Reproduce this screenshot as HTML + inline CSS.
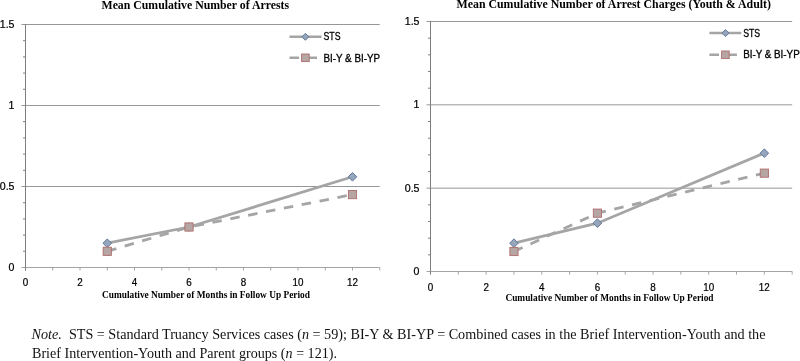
<!DOCTYPE html>
<html><head><meta charset="utf-8"><style>
html,body{margin:0;padding:0;background:#fff;}
svg{display:block;will-change:transform;}
.ax{font-family:"Liberation Sans",sans-serif;font-size:10.6px;fill:#000;stroke:#000;stroke-width:0.22px;}
.lg{font-family:"Liberation Sans",sans-serif;font-size:10px;fill:#000;stroke:#000;stroke-width:0.3px;}
.ti{font-family:"Liberation Serif",serif;font-weight:bold;font-size:11.8px;fill:#000;}
.xt{font-family:"Liberation Serif",serif;font-weight:bold;font-size:9.3px;fill:#000;}
.nt{font-family:"Liberation Serif",serif;font-size:14.3px;fill:#111;}
</style></head><body>
<svg width="800" height="361" viewBox="0 0 800 361">
<rect width="800" height="361" fill="#fff"/>
<text x="101.5" y="9" class="ti" textLength="187.5" lengthAdjust="spacingAndGlyphs">Mean Cumulative Number of Arrests</text>
<text x="456.5" y="8" class="ti" textLength="314.5" lengthAdjust="spacingAndGlyphs">Mean Cumulative Number of Arrest Charges (Youth &amp; Adult)</text>
<line x1="21.50" y1="186.50" x2="379.75" y2="186.50" stroke="#979797" stroke-width="1"/>
<line x1="21.50" y1="105.50" x2="379.75" y2="105.50" stroke="#979797" stroke-width="1"/>
<line x1="21.50" y1="24.50" x2="379.75" y2="24.50" stroke="#979797" stroke-width="1"/>
<line x1="23.00" y1="251.30" x2="25.50" y2="251.30" stroke="#7f7f7f" stroke-width="1"/>
<line x1="23.00" y1="235.10" x2="25.50" y2="235.10" stroke="#7f7f7f" stroke-width="1"/>
<line x1="23.00" y1="218.90" x2="25.50" y2="218.90" stroke="#7f7f7f" stroke-width="1"/>
<line x1="23.00" y1="202.70" x2="25.50" y2="202.70" stroke="#7f7f7f" stroke-width="1"/>
<line x1="23.00" y1="170.30" x2="25.50" y2="170.30" stroke="#7f7f7f" stroke-width="1"/>
<line x1="23.00" y1="154.10" x2="25.50" y2="154.10" stroke="#7f7f7f" stroke-width="1"/>
<line x1="23.00" y1="137.90" x2="25.50" y2="137.90" stroke="#7f7f7f" stroke-width="1"/>
<line x1="23.00" y1="121.70" x2="25.50" y2="121.70" stroke="#7f7f7f" stroke-width="1"/>
<line x1="23.00" y1="89.30" x2="25.50" y2="89.30" stroke="#7f7f7f" stroke-width="1"/>
<line x1="23.00" y1="73.10" x2="25.50" y2="73.10" stroke="#7f7f7f" stroke-width="1"/>
<line x1="23.00" y1="56.90" x2="25.50" y2="56.90" stroke="#7f7f7f" stroke-width="1"/>
<line x1="23.00" y1="40.70" x2="25.50" y2="40.70" stroke="#7f7f7f" stroke-width="1"/>
<line x1="21.50" y1="267.50" x2="379.75" y2="267.50" stroke="#a4a4a4" stroke-width="1"/>
<line x1="25.50" y1="267.50" x2="25.50" y2="270.50" stroke="#a4a4a4" stroke-width="1"/>
<line x1="52.75" y1="267.50" x2="52.75" y2="270.50" stroke="#a4a4a4" stroke-width="1"/>
<line x1="80.00" y1="267.50" x2="80.00" y2="270.50" stroke="#a4a4a4" stroke-width="1"/>
<line x1="107.25" y1="267.50" x2="107.25" y2="270.50" stroke="#a4a4a4" stroke-width="1"/>
<line x1="134.50" y1="267.50" x2="134.50" y2="270.50" stroke="#a4a4a4" stroke-width="1"/>
<line x1="161.75" y1="267.50" x2="161.75" y2="270.50" stroke="#a4a4a4" stroke-width="1"/>
<line x1="189.00" y1="267.50" x2="189.00" y2="270.50" stroke="#a4a4a4" stroke-width="1"/>
<line x1="216.25" y1="267.50" x2="216.25" y2="270.50" stroke="#a4a4a4" stroke-width="1"/>
<line x1="243.50" y1="267.50" x2="243.50" y2="270.50" stroke="#a4a4a4" stroke-width="1"/>
<line x1="270.75" y1="267.50" x2="270.75" y2="270.50" stroke="#a4a4a4" stroke-width="1"/>
<line x1="298.00" y1="267.50" x2="298.00" y2="270.50" stroke="#a4a4a4" stroke-width="1"/>
<line x1="325.25" y1="267.50" x2="325.25" y2="270.50" stroke="#a4a4a4" stroke-width="1"/>
<line x1="352.50" y1="267.50" x2="352.50" y2="270.50" stroke="#a4a4a4" stroke-width="1"/>
<line x1="379.75" y1="267.50" x2="379.75" y2="270.50" stroke="#a4a4a4" stroke-width="1"/>
<line x1="25.50" y1="24.00" x2="25.50" y2="270.50" stroke="#7f7f7f" stroke-width="1"/>
<text transform="translate(14.50,271.00) scale(1,1)" class="ax" text-anchor="end">0</text>
<text transform="translate(14.50,190.00) scale(1,1)" class="ax" text-anchor="end">0.5</text>
<text transform="translate(14.50,109.00) scale(1,1)" class="ax" text-anchor="end">1</text>
<text transform="translate(14.50,28.00) scale(1,1)" class="ax" text-anchor="end">1.5</text>
<text transform="translate(25.50,286.00) scale(0.93,1)" class="ax" text-anchor="middle">0</text>
<text transform="translate(80.00,286.00) scale(0.93,1)" class="ax" text-anchor="middle">2</text>
<text transform="translate(134.50,286.00) scale(0.93,1)" class="ax" text-anchor="middle">4</text>
<text transform="translate(189.00,286.00) scale(0.93,1)" class="ax" text-anchor="middle">6</text>
<text transform="translate(243.50,286.00) scale(0.93,1)" class="ax" text-anchor="middle">8</text>
<text transform="translate(298.00,286.00) scale(0.93,1)" class="ax" text-anchor="middle">10</text>
<text transform="translate(352.50,286.00) scale(0.93,1)" class="ax" text-anchor="middle">12</text>
<polyline points="107.25,251.30 189.00,227.00 352.50,194.60" fill="none" stroke="#a5a5a5" stroke-width="2.8" stroke-dasharray="9.5 8.7"/>
<polyline points="107.25,243.20 189.00,227.00 352.50,176.78" fill="none" stroke="#a5a5a5" stroke-width="2.8"/>
<polygon points="107.25,238.90 111.55,243.20 107.25,247.50 102.95,243.20" fill="#94a5bc" stroke="#62789a" stroke-width="1"/>
<polygon points="189.00,222.70 193.30,227.00 189.00,231.30 184.70,227.00" fill="#94a5bc" stroke="#62789a" stroke-width="1"/>
<polygon points="352.50,172.48 356.80,176.78 352.50,181.08 348.20,176.78" fill="#94a5bc" stroke="#62789a" stroke-width="1"/>
<rect x="103.15" y="247.20" width="8.20" height="8.20" fill="#b5a6a3" stroke="#b06c6c" stroke-width="0.9"/>
<rect x="184.90" y="222.90" width="8.20" height="8.20" fill="#b5a6a3" stroke="#b06c6c" stroke-width="0.9"/>
<rect x="348.40" y="190.50" width="8.20" height="8.20" fill="#b5a6a3" stroke="#b06c6c" stroke-width="0.9"/>
<line x1="426.50" y1="188.17" x2="792.16" y2="188.17" stroke="#979797" stroke-width="1"/>
<line x1="426.50" y1="104.83" x2="792.16" y2="104.83" stroke="#979797" stroke-width="1"/>
<line x1="426.50" y1="21.50" x2="792.16" y2="21.50" stroke="#979797" stroke-width="1"/>
<line x1="428.00" y1="254.83" x2="430.50" y2="254.83" stroke="#7f7f7f" stroke-width="1"/>
<line x1="428.00" y1="238.17" x2="430.50" y2="238.17" stroke="#7f7f7f" stroke-width="1"/>
<line x1="428.00" y1="221.50" x2="430.50" y2="221.50" stroke="#7f7f7f" stroke-width="1"/>
<line x1="428.00" y1="204.83" x2="430.50" y2="204.83" stroke="#7f7f7f" stroke-width="1"/>
<line x1="428.00" y1="171.50" x2="430.50" y2="171.50" stroke="#7f7f7f" stroke-width="1"/>
<line x1="428.00" y1="154.83" x2="430.50" y2="154.83" stroke="#7f7f7f" stroke-width="1"/>
<line x1="428.00" y1="138.16" x2="430.50" y2="138.16" stroke="#7f7f7f" stroke-width="1"/>
<line x1="428.00" y1="121.50" x2="430.50" y2="121.50" stroke="#7f7f7f" stroke-width="1"/>
<line x1="428.00" y1="88.16" x2="430.50" y2="88.16" stroke="#7f7f7f" stroke-width="1"/>
<line x1="428.00" y1="71.50" x2="430.50" y2="71.50" stroke="#7f7f7f" stroke-width="1"/>
<line x1="428.00" y1="54.83" x2="430.50" y2="54.83" stroke="#7f7f7f" stroke-width="1"/>
<line x1="428.00" y1="38.16" x2="430.50" y2="38.16" stroke="#7f7f7f" stroke-width="1"/>
<line x1="426.50" y1="271.50" x2="792.16" y2="271.50" stroke="#a4a4a4" stroke-width="1"/>
<line x1="430.50" y1="271.50" x2="430.50" y2="274.50" stroke="#a4a4a4" stroke-width="1"/>
<line x1="458.32" y1="271.50" x2="458.32" y2="274.50" stroke="#a4a4a4" stroke-width="1"/>
<line x1="486.14" y1="271.50" x2="486.14" y2="274.50" stroke="#a4a4a4" stroke-width="1"/>
<line x1="513.96" y1="271.50" x2="513.96" y2="274.50" stroke="#a4a4a4" stroke-width="1"/>
<line x1="541.78" y1="271.50" x2="541.78" y2="274.50" stroke="#a4a4a4" stroke-width="1"/>
<line x1="569.60" y1="271.50" x2="569.60" y2="274.50" stroke="#a4a4a4" stroke-width="1"/>
<line x1="597.42" y1="271.50" x2="597.42" y2="274.50" stroke="#a4a4a4" stroke-width="1"/>
<line x1="625.24" y1="271.50" x2="625.24" y2="274.50" stroke="#a4a4a4" stroke-width="1"/>
<line x1="653.06" y1="271.50" x2="653.06" y2="274.50" stroke="#a4a4a4" stroke-width="1"/>
<line x1="680.88" y1="271.50" x2="680.88" y2="274.50" stroke="#a4a4a4" stroke-width="1"/>
<line x1="708.70" y1="271.50" x2="708.70" y2="274.50" stroke="#a4a4a4" stroke-width="1"/>
<line x1="736.52" y1="271.50" x2="736.52" y2="274.50" stroke="#a4a4a4" stroke-width="1"/>
<line x1="764.34" y1="271.50" x2="764.34" y2="274.50" stroke="#a4a4a4" stroke-width="1"/>
<line x1="792.16" y1="271.50" x2="792.16" y2="274.50" stroke="#a4a4a4" stroke-width="1"/>
<line x1="430.50" y1="21.00" x2="430.50" y2="274.50" stroke="#7f7f7f" stroke-width="1"/>
<text transform="translate(419.50,275.00) scale(1,1)" class="ax" text-anchor="end">0</text>
<text transform="translate(419.50,191.67) scale(1,1)" class="ax" text-anchor="end">0.5</text>
<text transform="translate(419.50,108.33) scale(1,1)" class="ax" text-anchor="end">1</text>
<text transform="translate(419.50,25.00) scale(1,1)" class="ax" text-anchor="end">1.5</text>
<text transform="translate(430.50,290.60) scale(0.93,1)" class="ax" text-anchor="middle">0</text>
<text transform="translate(486.14,290.60) scale(0.93,1)" class="ax" text-anchor="middle">2</text>
<text transform="translate(541.78,290.60) scale(0.93,1)" class="ax" text-anchor="middle">4</text>
<text transform="translate(597.42,290.60) scale(0.93,1)" class="ax" text-anchor="middle">6</text>
<text transform="translate(653.06,290.60) scale(0.93,1)" class="ax" text-anchor="middle">8</text>
<text transform="translate(708.70,290.60) scale(0.93,1)" class="ax" text-anchor="middle">10</text>
<text transform="translate(764.34,290.60) scale(0.93,1)" class="ax" text-anchor="middle">12</text>
<polyline points="513.96,251.50 597.42,213.17 764.34,173.16" fill="none" stroke="#a5a5a5" stroke-width="2.8" stroke-dasharray="9.5 8.7"/>
<polyline points="513.96,243.17 597.42,223.17 764.34,153.16" fill="none" stroke="#a5a5a5" stroke-width="2.8"/>
<polygon points="513.96,238.87 518.26,243.17 513.96,247.47 509.66,243.17" fill="#94a5bc" stroke="#62789a" stroke-width="1"/>
<polygon points="597.42,218.87 601.72,223.17 597.42,227.47 593.12,223.17" fill="#94a5bc" stroke="#62789a" stroke-width="1"/>
<polygon points="764.34,148.86 768.64,153.16 764.34,157.46 760.04,153.16" fill="#94a5bc" stroke="#62789a" stroke-width="1"/>
<rect x="509.86" y="247.40" width="8.20" height="8.20" fill="#b5a6a3" stroke="#b06c6c" stroke-width="0.9"/>
<rect x="593.32" y="209.07" width="8.20" height="8.20" fill="#b5a6a3" stroke="#b06c6c" stroke-width="0.9"/>
<rect x="760.24" y="169.06" width="8.20" height="8.20" fill="#b5a6a3" stroke="#b06c6c" stroke-width="0.9"/>
<line x1="289.5" y1="36.8" x2="321.5" y2="36.8" stroke="#a5a5a5" stroke-width="2.5"/>
<polygon points="305.40,33.30 308.90,36.80 305.40,40.30 301.90,36.80" fill="#94a5bc" stroke="#62789a" stroke-width="1"/>
<line x1="289.5" y1="57.8" x2="318" y2="57.8" stroke="#a5a5a5" stroke-width="2.5" stroke-dasharray="9.6 8.3"/>
<rect x="301.60" y="54.00" width="7.60" height="7.60" fill="#b5a6a3" stroke="#b06c6c" stroke-width="0.9"/>
<text x="323.5" y="40.2" class="lg" textLength="17" lengthAdjust="spacingAndGlyphs">STS</text>
<text x="323.5" y="61.6" class="lg" textLength="56.5" lengthAdjust="spacingAndGlyphs">BI-Y &amp; BI-YP</text>
<line x1="709.4" y1="33.1" x2="741.3" y2="33.1" stroke="#a5a5a5" stroke-width="2.5"/>
<polygon points="725.40,29.60 728.90,33.10 725.40,36.60 721.90,33.10" fill="#94a5bc" stroke="#62789a" stroke-width="1"/>
<line x1="709.4" y1="54.8" x2="737.5" y2="54.8" stroke="#a5a5a5" stroke-width="2.5" stroke-dasharray="9.6 8.3"/>
<rect x="721.60" y="51.00" width="7.60" height="7.60" fill="#b5a6a3" stroke="#b06c6c" stroke-width="0.9"/>
<text x="743.2" y="37.0" class="lg" textLength="17" lengthAdjust="spacingAndGlyphs">STS</text>
<text x="743.2" y="58.0" class="lg" textLength="56.5" lengthAdjust="spacingAndGlyphs">BI-Y &amp; BI-YP</text>
<text x="102" y="297.5" class="xt" textLength="208" lengthAdjust="spacingAndGlyphs">Cumulative Number of Months in Follow Up Period</text>
<text x="505.4" y="301.2" class="xt" textLength="208.2" lengthAdjust="spacingAndGlyphs">Cumulative Number of Months in Follow Up Period</text>
<text x="31.5" y="339" class="nt" textLength="734" lengthAdjust="spacingAndGlyphs"><tspan font-style="italic">Note.</tspan>&#160; STS = Standard Truancy Services cases (<tspan font-style="italic">n</tspan> = 59); BI-Y &amp; BI-YP = Combined cases in the Brief Intervention-Youth and the</text>
<text x="32" y="358" class="nt" textLength="305" lengthAdjust="spacingAndGlyphs">Brief Intervention-Youth and Parent groups (<tspan font-style="italic">n</tspan> = 121).</text>
</svg>
</body></html>
